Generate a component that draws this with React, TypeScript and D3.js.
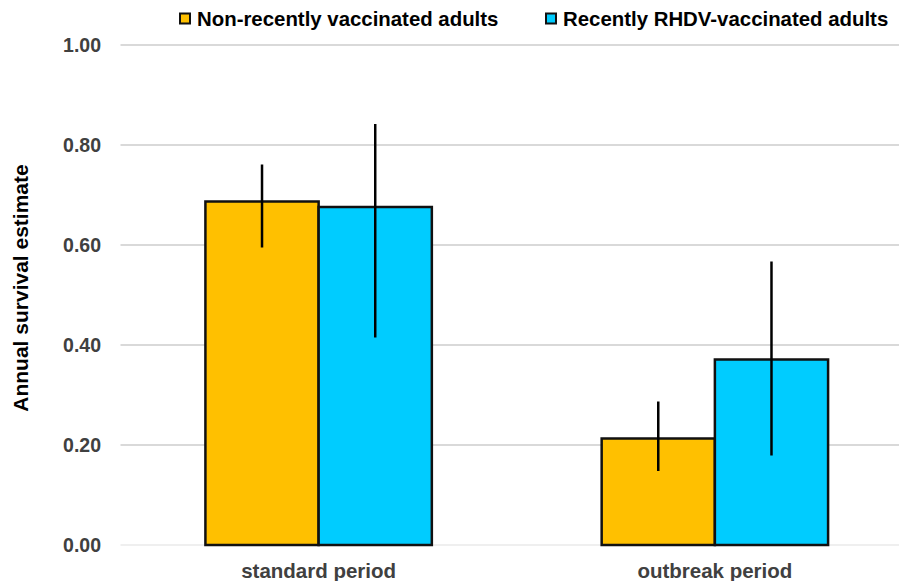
import React from "react";
import * as d3 from "d3";

const categories = ["standard period", "outbreak period"];
const seriesNames = ["Non-recently vaccinated adults", "Recently RHDV-vaccinated adults"];
const seriesColors = ["#FFC000", "#00CCFF"];
const values = [
  [0.687, 0.213],
  [0.676, 0.371],
];
const lower = [
  [0.595, 0.148],
  [0.415, 0.179],
];
const upper = [
  [0.761, 0.287],
  [0.842, 0.567],
];
const yTicks = [0, 0.2, 0.4, 0.6, 0.8, 1.0];

const W = 899;
const H = 581;
const font = "'Liberation Sans', Arial, sans-serif";

export default function App() {
  const left = 120.5;
  const right = 913;
  const y = d3.scaleLinear().domain([0, 1]).range([545, 45]);
  const x0 = d3.scaleBand().domain(categories).range([left, right]).paddingInner(0).paddingOuter(0);
  const groupW = x0.bandwidth() * (2 / 3.5);
  const x1 = d3
    .scaleBand()
    .domain(seriesNames)
    .range([0, groupW])
    .padding(0);

  return (
    <svg width={W} height={H} style={{ position: "absolute", left: 0, top: 0, background: "#fff" }}>
      {yTicks.map((t) => (
        <g key={t}>
          <line x1={left} x2={W} y1={y(t)} y2={y(t)} stroke={t === 0 ? "#efefef" : "#d9d9d9"} strokeWidth={2} />
          <text
            x={101}
            y={y(t)}
            dy="0.36em"
            textAnchor="end"
            fontFamily={font}
            fontWeight="bold"
            fontSize={19.5}
            fill="#404040"
          >
            {t.toFixed(2)}
          </text>
        </g>
      ))}
      {categories.map((c, ci) => {
        const gx = (x0(c) as number) + x0.bandwidth() / 2 - groupW / 2;
        return (
          <g key={c}>
            {seriesNames.map((s, si) => {
              const bx = gx + (x1(s) as number);
              const v = values[si][ci];
              return (
                <rect
                  key={s}
                  x={bx}
                  y={y(v)}
                  width={x1.bandwidth()}
                  height={y(0) - y(v)}
                  fill={seriesColors[si]}
                  stroke="#111"
                  strokeWidth={2.5}
                />
              );
            })}
            {seriesNames.map((s, si) => {
              const cx = gx + (x1(s) as number) + x1.bandwidth() / 2;
              return (
                <line
                  key={s + "e"}
                  x1={cx}
                  x2={cx}
                  y1={y(lower[si][ci])}
                  y2={y(upper[si][ci])}
                  stroke="#000"
                  strokeWidth={2.5}
                />
              );
            })}
            <text
              x={(x0(c) as number) + x0.bandwidth() / 2}
              y={571}
              dy="0.36em"
              textAnchor="middle"
              fontFamily={font}
              fontWeight="bold"
              fontSize={20.5}
              fill="#404040"
            >
              {c}
            </text>
          </g>
        );
      })}
      <text
        transform={`translate(20,288) rotate(-90)`}
        textAnchor="middle"
        dy="0.36em"
        fontFamily={font}
        fontWeight="bold"
        fontSize={21}
        fill="#000"
      >
        Annual survival estimate
      </text>
      {seriesNames.map((s, si) => {
        const lx = si === 0 ? 180 : 546;
        return (
          <g key={s}>
            <rect x={lx} y={13.5} width={10} height={10} fill={seriesColors[si]} stroke="#111" strokeWidth={2} />
            <text x={lx + 17} y={19} dy="0.36em" fontFamily={font} fontWeight="bold" fontSize={20.4} fill="#000">
              {s}
            </text>
          </g>
        );
      })}
    </svg>
  );
}
